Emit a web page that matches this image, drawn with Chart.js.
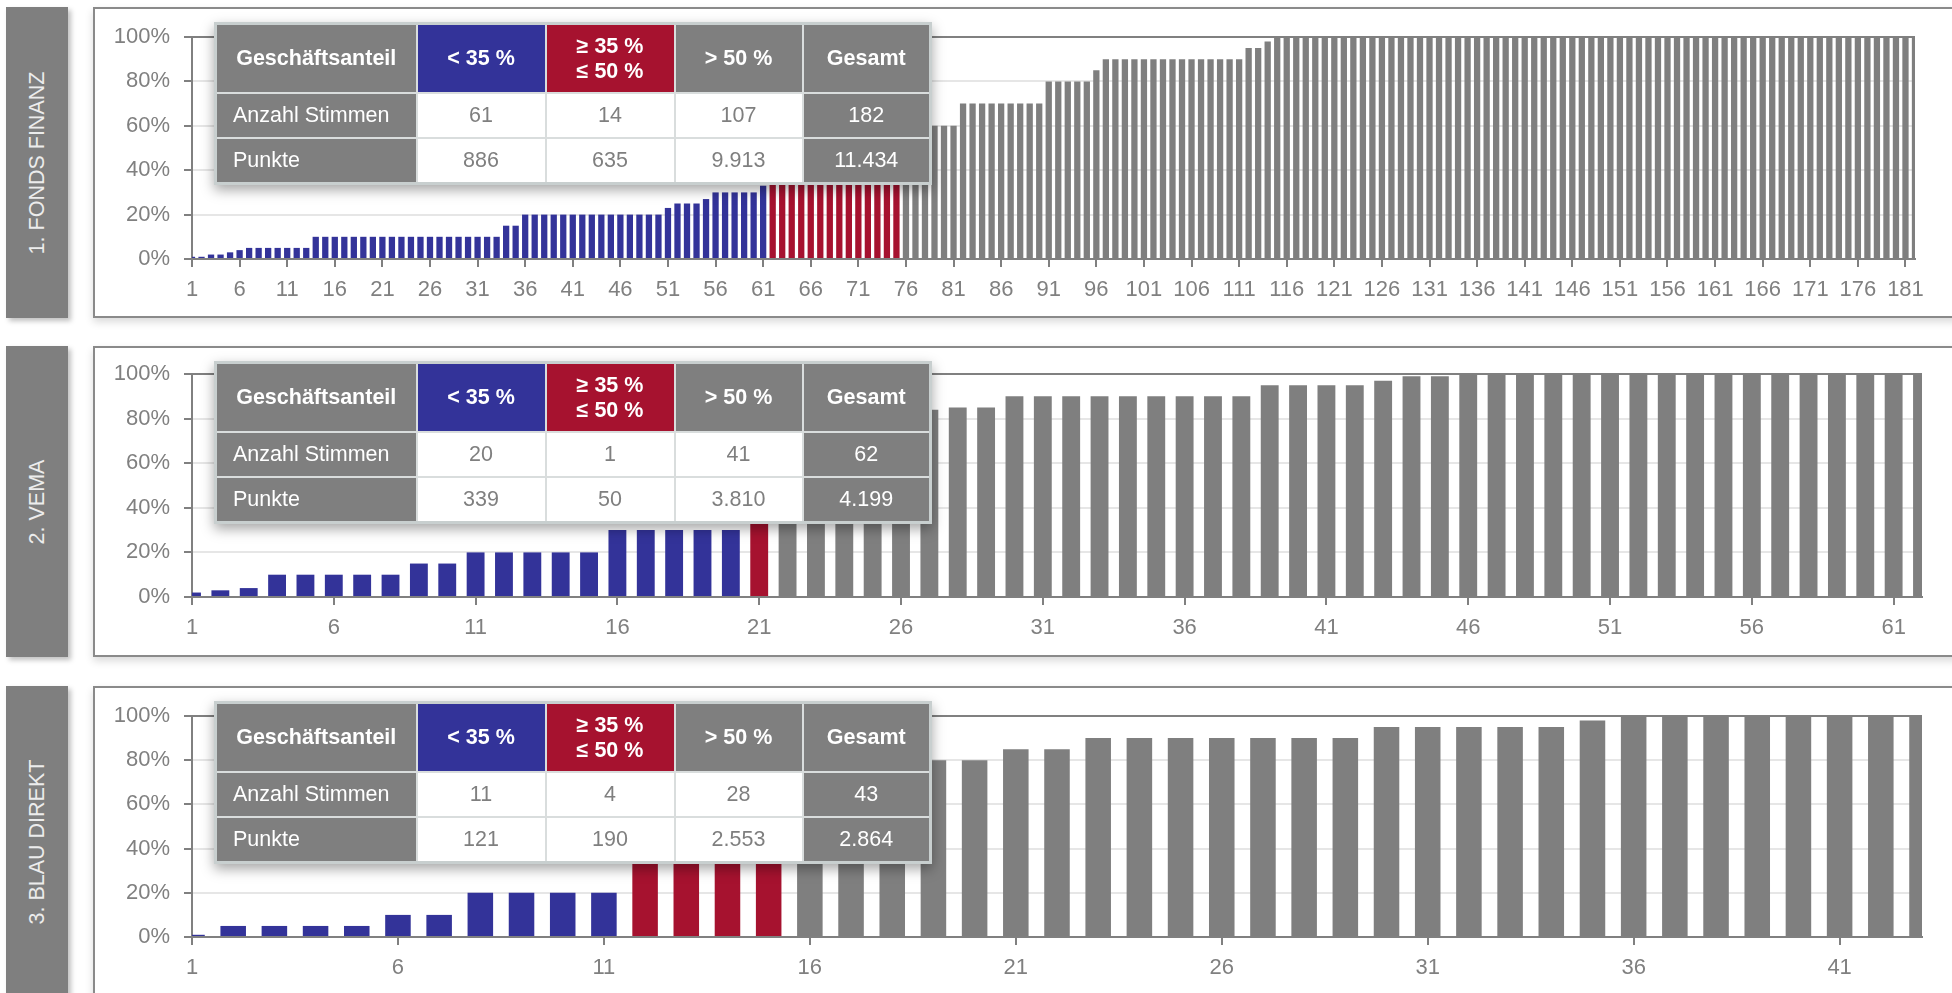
<!DOCTYPE html>
<html>
<head>
<meta charset="utf-8">
<script src="https://cdn.jsdelivr.net/npm/chart.js@4.4.1/dist/chart.umd.min.js"></script>
<style>
  body { margin: 0; width: 1952px; height: 993px; overflow: hidden; background: #fff; position: relative;
         font-family: "Liberation Sans", Arial, sans-serif; }
  .panel { position: absolute; left: 0; width: 1952px; height: 311px; }
  .side { position: absolute; left: 6px; top: 0; width: 62px; height: 311px; background: #7f7f7f;
          box-shadow: 3px 3px 5px rgba(0,0,0,0.25); }
  .side span { position: absolute; left: 50%; top: 50%; transform: translate(-50%, -50%) rotate(-90deg);
               white-space: nowrap; color: #ececec; font-size: 21.5px; }
  .frame { position: absolute; left: 93px; top: 0; width: 1880px; height: 307px; border: 2px solid #8a8a8a;
           background: #fff; box-shadow: 0 4px 8px rgba(0,0,0,0.15); }
  canvas { position: absolute; left: 93px; top: 0; }
  table.stats { position: absolute; left: 214px; top: 15px; border-collapse: collapse; border: 3px solid #c8cfcf;
                box-shadow: 0 5px 12px rgba(0,0,0,0.35); font-size: 21.5px; table-layout: fixed; }
  table.stats td { border: 2px solid #d9dddd; padding: 0; text-align: center; color: #7f7f7f; background: #fff;
                   height: 43px; }
  table.stats tr.head td { font-weight: bold; color: #fff; height: 67px; line-height: 25px; white-space: pre-line;
                           background: #7f7f7f; }
  table.stats td.gray { background: #7f7f7f; color: #fff; }
  table.stats td.rowlab { text-align: left; padding-left: 16px; background: #7f7f7f; color: #fff; }
</style>
</head>
<body>
<script>
// Geschäftsanteil je Stimme in %, aufsteigend sortiert
const fondsFinanzValues = [
  1, 1, 2, 2, 3, 4, 5, 5, 5, 5,
  5, 5, 5, 10, 10, 10, 10, 10, 10, 10,
  10, 10, 10, 10, 10, 10, 10, 10, 10, 10,
  10, 10, 10, 15, 15, 20, 20, 20, 20, 20,
  20, 20, 20, 20, 20, 20, 20, 20, 20, 20,
  23, 25, 25, 25, 27, 30, 30, 30, 30, 30,
  33, 35, 35, 36, 38, 40, 40, 40, 42, 45,
  45, 45, 48, 50, 50, 55, 60, 60, 60, 60,
  60, 70, 70, 70, 70, 70, 70, 70, 70, 70,
  80, 80, 80, 80, 80, 85, 90, 90, 90, 90,
  90, 90, 90, 90, 90, 90, 90, 90, 90, 90,
  90, 95, 95, 98, 100, 100, 100, 100, 100, 100,
  100, 100, 100, 100, 100, 100, 100, 100, 100, 100,
  100, 100, 100, 100, 100, 100, 100, 100, 100, 100,
  100, 100, 100, 100, 100, 100, 100, 100, 100, 100,
  100, 100, 100, 100, 100, 100, 100, 100, 100, 100,
  100, 100, 100, 100, 100, 100, 100, 100, 100, 100,
  100, 100, 100, 100, 100, 100, 100, 100, 100, 100,
  100, 100
];
const vemaValues = [
  2, 3, 4, 10, 10, 10, 10, 10, 15, 15,
  20, 20, 20, 20, 20, 30, 30, 30, 30, 30,
  40, 60, 65, 70, 75, 80, 84, 85, 85, 90,
  90, 90, 90, 90, 90, 90, 90, 90, 95, 95,
  95, 95, 97, 99, 99, 100, 100, 100, 100, 100,
  100, 100, 100, 100, 100, 100, 100, 100, 100, 100,
  100, 100
];
const blauDirektValues = [
  1, 5, 5, 5, 5, 10, 10, 20, 20, 20,
  20, 40, 40, 45, 50, 60, 70, 75, 80, 80,
  85, 85, 90, 90, 90, 90, 90, 90, 90, 95,
  95, 95, 95, 95, 98, 100, 100, 100, 100, 100,
  100, 100, 100
];

// Tabellen: Anzahl Stimmen / Punkte je Gruppe (< 35 %, 35-50 %, > 50 %, Gesamt)
const headerCells = ['Geschäftsanteil', '< 35 %', '≥ 35 %\n≤ 50 %', '> 50 %', 'Gesamt'];
const fondsFinanzStimmen = [61, 14, 107, 182];
const fondsFinanzPunkte = ['886', '635', '9.913', '11.434'];
const vemaStimmen = [20, 1, 41, 62];
const vemaPunkte = ['339', '50', '3.810', '4.199'];
const blauDirektStimmen = [11, 4, 28, 43];
const blauDirektPunkte = ['121', '190', '2.553', '2.864'];

const yTicks = [0, 20, 40, 60, 80, 100];

const BLUE = '#333399', RED = '#a6122f', GRAY = '#7f7f7f';
const FONT = { family: 'Liberation Sans', size: 22 };

function buildTable(parent, stimmen, punkte) {
  const t = document.createElement('table');
  t.className = 'stats';
  const widths = [201, 129, 129, 128, 128];
  const cg = document.createElement('colgroup');
  widths.forEach(w => { const c = document.createElement('col'); c.style.width = w + 'px'; cg.appendChild(c); });
  t.appendChild(cg);
  const head = t.insertRow(); head.className = 'head';
  headerCells.forEach((h, i) => {
    const td = head.insertCell(); td.textContent = h;
    if (i === 1) td.style.background = BLUE;
    if (i === 2) td.style.background = RED;
  });
  [['Anzahl Stimmen', stimmen], ['Punkte', punkte]].forEach(([lab, vals]) => {
    const tr = t.insertRow();
    const l = tr.insertCell(); l.textContent = lab; l.className = 'rowlab';
    vals.forEach((v, i) => {
      const td = tr.insertCell(); td.textContent = v;
      if (i === 3) td.className = 'gray';
    });
  });
  parent.appendChild(t);
}

function makePanel(top, title, values, stimmen, punkte, opt) {
  const p = document.createElement('div');
  p.className = 'panel'; p.style.top = top + 'px';
  p.innerHTML = '<div class="side"><span>' + title + '</span></div><div class="frame"></div>';
  const cv = document.createElement('canvas');
  cv.width = 1859; cv.height = 311;
  cv.style.width = '1859px'; cv.style.height = '311px';
  p.appendChild(cv);
  document.body.appendChild(p);
  buildTable(p, stimmen, punkte);

  const labels = values.map((v, i) => String(i + 1));
  const nBlue = stimmen[0], nRed = stimmen[1];
  new Chart(cv, {
    type: 'bar',
    data: {
      labels: labels,
      datasets: [{
        data: values,
        backgroundColor: c => c.dataIndex < nBlue ? BLUE : (c.dataIndex < nBlue + nRed ? RED : GRAY),
        barPercentage: opt.bar,
        categoryPercentage: 1,
        clip: 0
      }]
    },
    options: {
      responsive: false,
      animation: false,
      devicePixelRatio: 1,
      layout: { padding: { top: opt.top, right: opt.right, left: 0, bottom: 0 } },
      plugins: { legend: { display: false }, tooltip: { enabled: false } },
      scales: {
        x: {
          offset: false,
          grid: { offset: false, drawOnChartArea: false, tickLength: 8, lineWidth: 2,
                  tickColor: c => c.index % 5 === 0 ? '#808080' : 'rgba(0,0,0,0)' },
          border: { color: '#808080', width: 2 },
          ticks: { autoSkip: false, maxRotation: 0, minRotation: 0, padding: 10, color: '#808080', font: FONT,
                   callback: (v, i) => i % 5 === 0 ? labels[i] : '' },
          afterFit: s => { s.height = opt.xh; }
        },
        y: {
          min: 0, max: 100,
          afterBuildTicks: s => { s.ticks = yTicks.map(v => ({ value: v })); },
          ticks: { padding: 14, color: '#808080', font: FONT, callback: v => v + '%' },
          grid: { color: c => c.tick && c.tick.value === 100 ? '#808080' : '#e6e6e6', lineWidth: 2,
                  tickLength: 8, tickColor: '#808080' },
          border: { color: '#808080', width: 2 },
          afterFit: s => { s.width = 99; }
        }
      }
    }
  });
}

makePanel(7, '1. FONDS FINANZ', fondsFinanzValues, fondsFinanzStimmen, fondsFinanzPunkte,
  { top: 30, right: 37, xh: 59, bar: 0.66 });
makePanel(346, '2. VEMA', vemaValues, vemaStimmen, vemaPunkte,
  { top: 28, right: 30, xh: 60, bar: 0.63 });
makePanel(686, '3. BLAU DIREKT', blauDirektValues, blauDirektStimmen, blauDirektPunkte,
  { top: 30, right: 30, xh: 60, bar: 0.62 });
</script>
</body>
</html>
